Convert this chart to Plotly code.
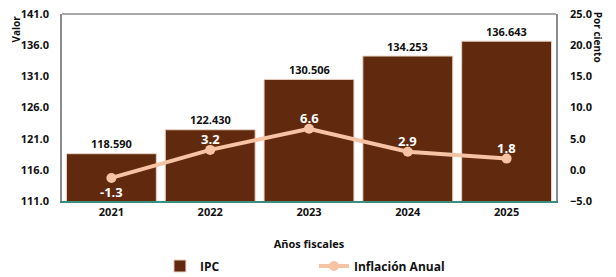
import plotly.graph_objects as go

years = ["2021", "2022", "2023", "2024", "2025"]
ipc = [118.590, 122.430, 130.506, 134.253, 136.643]
inflacion = [-1.3, 3.2, 6.6, 2.9, 1.8]
ipc_labels = ["118.590", "122.430", "130.506", "134.253", "136.643"]
inf_labels = ["-1.3", "3.2", "6.6", "2.9", "1.8"]
inf_below = [True, False, False, False, False]

FONT = "Open Sans"
fig = go.Figure()
fig.add_trace(go.Bar(
    x=years, y=ipc, name="IPC", marker=dict(color="#612A0F", line=dict(color="#EAD3C4", width=1)),
))
fig.add_trace(go.Scatter(
    x=years, y=inflacion, name="Inflación Anual", yaxis="y2", mode="lines+markers",
    line=dict(color="#F6C3A4", width=4), marker=dict(color="#F6C3A4", size=10),
))

annotations = []
for i, (v, t) in enumerate(zip(ipc, ipc_labels)):
    annotations.append(dict(x=i, y=v, xref="x", yref="y", text=t, showarrow=False,
                            yshift=10, yanchor="middle",
                            font=dict(family=FONT, size=11, color="#111111", weight=700)))
for i, (v, t, below) in enumerate(zip(inflacion, inf_labels, inf_below)):
    annotations.append(dict(x=i, y=v, xref="x", yref="y2", text=t, showarrow=False,
                            yshift=-14 if below else 11, yanchor="middle",
                            font=dict(family=FONT, size=13, color="white", weight=700)))
annotations += [
    dict(text="Valor", xref="paper", yref="paper", x=-0.095, y=1.0, xanchor="center", yanchor="top",
         textangle=-90, showarrow=False, font=dict(size=10, weight=700)),
    dict(text="Por ciento", xref="paper", yref="paper", x=1.085, y=1.02, xanchor="center", yanchor="top",
         textangle=90, showarrow=False, font=dict(size=10, weight=700)),
]

fig.update_layout(
    width=608, height=269, margin=dict(l=54, r=60, t=6, b=76, autoexpand=False),
    paper_bgcolor="white", plot_bgcolor="white",
    font=dict(family=FONT, size=11, color="#111111", weight=700),
    bargap=0.09, showlegend=True,
    legend=dict(orientation="h", x=0.51, xanchor="center", y=-0.27, yanchor="top",
                entrywidth=109, font=dict(size=12, weight=700), itemwidth=30),
    xaxis=dict(type="category", range=[-0.5, len(years) - 0.5], showline=True, linecolor="#3E8C7C",
               linewidth=2, ticks="", showgrid=False,
               title=dict(text="Años fiscales", font=dict(size=11, weight=700), standoff=22),
               tickfont=dict(size=11, weight=700)),
    yaxis=dict(range=[111, 141], tickvals=[111, 116, 121, 126, 131, 136, 141], tickformat=".1f",
               showgrid=False, showline=True, linecolor="#8C8C8C", linewidth=1.5, zeroline=False,
               ticks="", ticklabelstandoff=9, ticklabeloverflow="allow"),
    yaxis2=dict(range=[-5, 25], tickvals=[-5, 0, 5, 10, 15, 20, 25], tickformat=".1f",
                overlaying="y", side="right", showgrid=False, showline=True, linecolor="#8C8C8C",
                linewidth=1.5, zeroline=False, ticks="", ticklabelstandoff=10,
                ticklabeloverflow="allow"),
    shapes=[dict(type="line", xref="paper", yref="paper", x0=0, x1=1, y0=1, y1=1,
                 line=dict(color="#8C8C8C", width=1.5))],
    annotations=annotations,
)
fig.write_html("out.html")
